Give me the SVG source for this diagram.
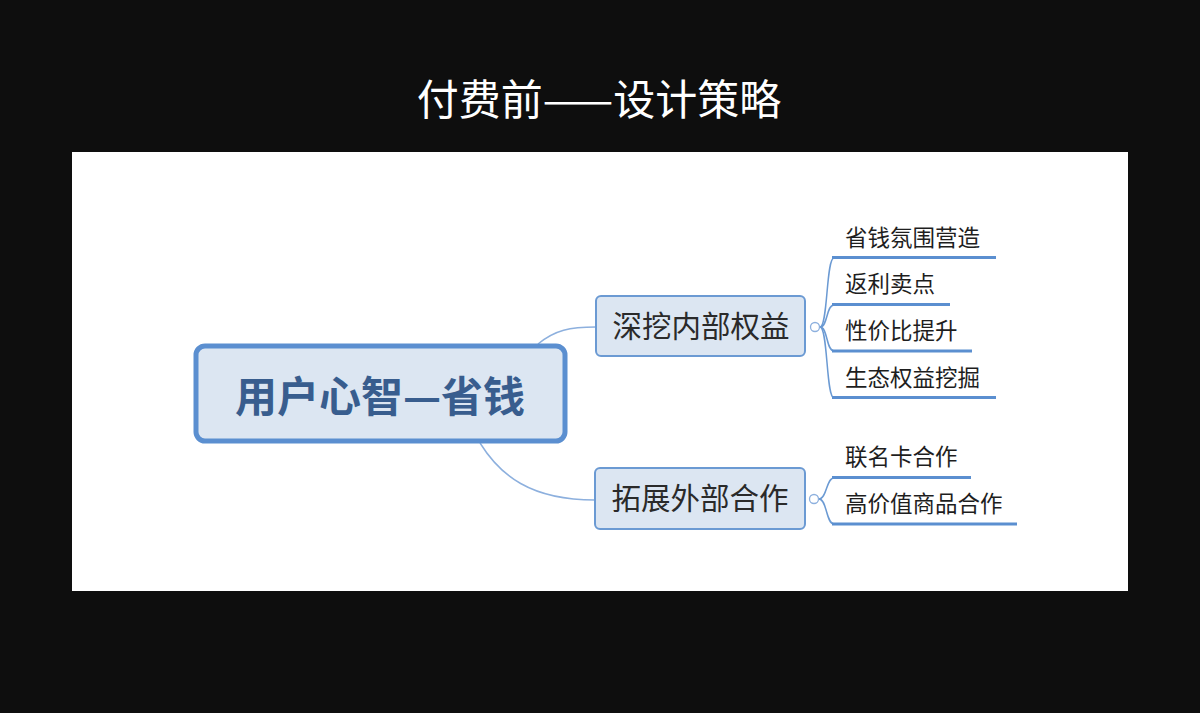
<svg xmlns="http://www.w3.org/2000/svg" width="1200" height="713" viewBox="0 0 1200 713">
<style>
.cjk{font-family:"Noto Sans CJK SC","Noto Sans",sans-serif}
.root{fill:#dce6f2;stroke:#5b8fd0;stroke-width:5}
.rootT{font-size:42px;font-weight:bold;fill:#385d8e;text-anchor:middle}
.sub{fill:#dce6f2;stroke:#6b9ad3;stroke-width:2}
.subT{font-size:29.5px;fill:#2a2a2a;text-anchor:middle}
.leafT{font-size:22.5px;fill:#1e1e1e}
.ul{stroke:#5b8fd0;stroke-width:3;fill:none}
.con{stroke:#8db0de;stroke-width:1.5;fill:none}
.br{stroke:#6b9ad3;stroke-width:1.5;fill:none}
.knob{fill:#fff;stroke:#8db0de;stroke-width:1.3}
</style>
<rect width="1200" height="713" fill="#0e0e0e"/>
<text class="cjk" x="599" y="115" font-size="42" fill="#ffffff" text-anchor="middle">付费前——设计策略</text>
<rect x="72" y="152" width="1056" height="439" fill="#ffffff"/>
<g id="connectors">
<path class="con" d="M538,344 C555,330 570,327 596,327"/>
<path class="con" d="M480,443 C500,475 530,500 595,500"/>
<path class="br" d="M820,327 C828,327 826,258 834,258"/>
<path class="br" d="M820,327 C828,327 826,305 834,305"/>
<path class="br" d="M820,327 C828,327 826,351 834,351"/>
<path class="br" d="M820,327 C828,327 826,398 834,398"/>
<path class="br" d="M819,499 C827,499 826,478 834,478"/>
<path class="br" d="M819,499 C827,499 826,524 834,524"/>
</g>
<g id="root">
<rect class="root" x="196" y="346" width="369" height="95" rx="9"/>
<text class="cjk rootT" x="380" y="412">用户心智—省钱</text>
</g>
<g id="n1">
<rect class="sub" x="596" y="296" width="209" height="60" rx="5"/>
<text class="cjk subT" x="701" y="337">深挖内部权益</text>
<circle class="knob" cx="815" cy="327" r="4.5"/>
</g>
<g id="n2">
<rect class="sub" x="595" y="468" width="210" height="61" rx="5"/>
<text class="cjk subT" x="700" y="509">拓展外部合作</text>
<circle class="knob" cx="814" cy="499" r="4.5"/>
</g>
<g id="l1"><line class="ul" x1="832" y1="257.5" x2="996" y2="257.5"/><text class="cjk leafT" x="845" y="246">省钱氛围营造</text></g>
<g id="l2"><line class="ul" x1="832" y1="304.5" x2="950" y2="304.5"/><text class="cjk leafT" x="845" y="292">返利卖点</text></g>
<g id="l3"><line class="ul" x1="832" y1="351" x2="972" y2="351"/><text class="cjk leafT" x="845" y="339">性价比提升</text></g>
<g id="l4"><line class="ul" x1="832" y1="397.5" x2="996" y2="397.5"/><text class="cjk leafT" x="845" y="386">生态权益挖掘</text></g>
<g id="l5"><line class="ul" x1="832" y1="477.5" x2="971" y2="477.5"/><text class="cjk leafT" x="845" y="465">联名卡合作</text></g>
<g id="l6"><line class="ul" x1="832" y1="524" x2="1017" y2="524"/><text class="cjk leafT" x="845" y="512">高价值商品合作</text></g>
</svg>
